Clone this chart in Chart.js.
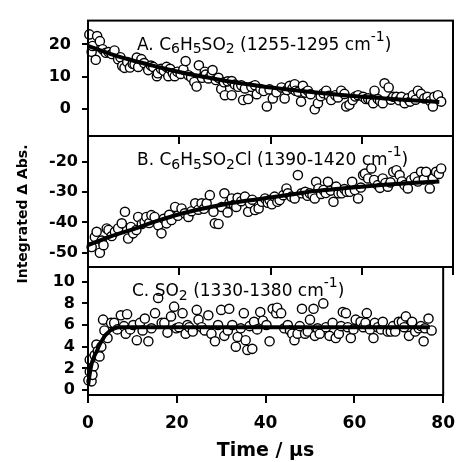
<!DOCTYPE html>
<html><head><meta charset="utf-8">
<script src="https://cdn.jsdelivr.net/npm/chart.js@4/dist/chart.umd.min.js"></script>
<style>
html,body{margin:0;padding:0;background:#fff;}
#wrap{position:relative;width:465px;height:462px;}
canvas{position:absolute;left:0;top:0;}
</style></head><body>
<div id="wrap">
<canvas id="cA" width="465" height="462"></canvas>
<canvas id="cB" width="465" height="462"></canvas>
<canvas id="cC" width="465" height="462"></canvas>
</div>
<script>
// ---------- Panel A: C6H5SO2 ----------
const timeA = [0.3,0.8,1.0,1.7,2.0,2.6,3.2,3.9,4.5,5.2,5.8,6.6,7.1,7.5,8.0,8.6,9.2,9.8,10.2,10.7,11.0,11.7,12.3,13.2,13.8,14.3,15.1,15.3,16.0,16.6,17.2,17.6,18.0,18.6,19.0,19.6,20.3,20.9,21.4,22.0,22.6,23.3,23.8,24.3,25.0,25.6,25.8,26.4,27.1,27.3,28.0,28.6,29.2,29.8,30.0,30.6,31.5,31.5,32.2,32.9,33.6,34.0,34.4,35.1,35.8,36.6,37.0,37.8,38.5,39.2,39.8,40.5,41.3,42.4,43.1,43.6,44.2,44.8,45.3,45.5,46.1,46.7,47.1,47.6,48.2,48.8,49.7,50.4,51.0,51.6,52.2,52.8,53.3,54.2,54.8,55.5,56.2,56.6,57.3,58.0,58.6,59.2,60.3,60.9,61.4,62.0,62.5,62.8,63.5,64.0,64.6,65.0,65.9,66.4,66.9,67.6,68.2,68.7,69.4,70.1,70.6,71.2,71.8,72.3,73.0,73.7,74.4,75.0,75.6,75.9,76.7,77.4];
const absA = [23.1,17.7,19.5,15.2,22.6,21.0,18.5,17.4,17.6,17.0,18.1,15.4,16.0,13.3,12.7,14.5,12.8,14.0,13.8,15.9,13.0,15.4,14.2,12.0,13.4,13.0,10.1,11.0,12.4,11.8,13.0,10.1,12.4,11.0,10.1,11.5,10.8,12.2,14.8,10.4,9.8,8.3,6.9,13.5,9.6,11.5,10.6,9.4,10.8,12.0,8.9,9.6,6.1,8.2,4.2,8.5,8.6,4.2,7.5,6.8,7.3,2.7,6.3,3.0,6.8,7.3,4.5,6.1,5.5,0.7,6.0,3.2,5.1,6.6,3.2,5.8,7.1,6.2,7.6,5.6,5.3,2.2,7.1,5.0,5.6,4.5,-0.2,1.7,3.9,4.8,5.6,4.0,2.7,4.2,3.5,5.6,4.6,0.7,1.2,2.7,3.8,4.2,3.7,3.0,3.2,2.6,1.7,5.6,3.0,2.4,1.7,7.9,6.6,2.8,3.7,3.7,2.6,3.7,1.7,3.2,2.2,4.2,2.8,5.6,4.6,3.2,3.7,2.4,0.7,3.7,4.2,2.2];
const fitTimeA = [0,5,10,15,20,25,30,35,40,45,50,55,60,65,70,77];
const fitA = [19.5,17.0,14.9,13.1,11.4,10.0,8.7,7.6,6.6,5.8,5.0,4.3,3.7,3.2,2.7,2.1];
const ticksA = [0,10,20];

// ---------- Panel B: C6H5SO2Cl ----------
const timeB = [0.8,1.5,1.9,2.6,3.0,3.4,4.1,4.5,5.2,5.9,6.6,7.4,8.1,8.8,9.4,9.9,10.6,11.0,11.8,12.4,12.8,13.4,13.9,14.6,15.4,16.1,16.6,17.2,17.8,18.3,19.1,19.7,20.5,21.2,22.0,22.7,23.5,24.2,24.9,25.4,26.0,26.7,27.5,27.8,28.6,29.3,29.9,30.6,31.0,31.5,32.0,32.5,32.8,33.6,34.4,35.1,35.5,36.0,36.6,37.4,38.1,38.8,39.4,39.8,40.3,40.9,41.5,42.0,42.8,43.5,43.8,44.6,45.3,46.0,46.8,47.6,48.1,48.6,49.2,49.7,50.0,50.5,51.1,51.6,52.1,52.6,53.2,53.8,54.4,54.9,55.6,56.2,56.7,57.4,57.9,58.5,59.2,59.8,60.3,60.7,61.4,62.1,62.7,63.5,64.0,64.6,65.2,65.7,66.3,66.9,67.6,68.3,68.8,69.4,70.1,70.8,71.6,72.3,73.0,73.6,74.1,74.9,75.6,76.3,76.9,77.4];
const absB = [-48.1,-44.8,-43.1,-50.0,-46.0,-47.5,-42.0,-42.5,-44.5,-43.1,-42.0,-40.3,-36.5,-45.3,-41.5,-43.6,-42.5,-38.2,-40.5,-39.8,-38.2,-40.2,-37.6,-38.2,-40.9,-43.6,-38.8,-40.3,-37.5,-39.2,-34.9,-37.8,-35.4,-37.0,-38.2,-36.3,-33.7,-35.8,-33.7,-35.5,-33.7,-31.0,-36.5,-40.3,-40.5,-34.9,-30.4,-36.7,-33.5,-32.1,-34.2,-34.9,-31.9,-33.0,-31.5,-36.5,-33.7,-32.5,-35.9,-35.4,-33.2,-32.1,-33.5,-32.6,-34.0,-31.5,-33.2,-32.6,-31.0,-28.8,-30.4,-31.5,-32.1,-24.4,-30.4,-29.9,-31.2,-30.4,-31.0,-32.1,-26.6,-28.8,-30.6,-29.3,-30.3,-26.6,-29.5,-33.2,-28.2,-30.4,-30.4,-29.0,-29.9,-29.9,-26.6,-29.3,-32.1,-28.5,-24.4,-23.9,-25.5,-22.2,-26.0,-27.7,-28.6,-25.5,-27.0,-28.2,-26.8,-23.3,-22.8,-24.4,-26.5,-27.7,-28.8,-26.0,-25.0,-26.5,-23.3,-25.8,-23.3,-28.8,-25.5,-23.3,-24.0,-22.2];
const fitTimeB = [0,5,10,15,20,25,30,35,40,45,50,55,60,65,70,77];
const fitB = [-47.5,-44.6,-42.2,-39.6,-37.3,-35.5,-34.0,-32.8,-31.8,-30.7,-29.6,-28.9,-28.2,-27.6,-27.1,-26.5];
const ticksB = [-50,-40,-30,-20];

// ---------- Panel C: SO2 ----------
const timeC = [0.1,0.4,0.4,0.8,1.0,1.3,1.5,1.9,2.2,2.6,3.0,3.4,3.7,4.4,5.2,5.9,6.6,7.4,8.1,8.5,8.8,9.5,10.2,11.0,11.7,12.3,12.8,13.6,14.3,15.1,15.8,16.6,17.2,17.9,18.7,19.4,19.9,20.5,21.3,22.0,22.4,22.8,23.6,24.5,24.9,25.6,26.3,27.1,27.8,28.6,29.3,30.0,30.7,31.5,31.8,32.5,33.3,33.7,34.4,35.1,35.5,35.9,36.4,37.0,37.4,38.1,38.8,39.4,40.2,40.9,41.6,42.4,42.6,43.5,44.2,45.0,45.5,46.0,46.5,47.2,47.7,48.2,48.9,49.5,50.0,50.8,51.1,51.7,52.2,53.0,53.6,54.4,55.1,55.8,56.5,57.0,57.4,58.1,58.5,59.2,59.8,60.3,61.4,62.0,62.5,62.8,63.5,64.3,64.6,65.3,66.0,66.4,67.5,68.2,68.7,69.2,70.0,70.7,71.2,71.6,72.3,73.0,73.7,74.5,75.0,75.6,75.9,76.7,77.4];
const absC = [0.9,1.7,2.8,0.8,1.4,2.2,3.2,4.2,3.6,3.1,4.0,6.5,5.5,4.8,6.2,6.2,5.6,6.9,5.9,5.2,7.0,5.6,6.0,4.6,6.2,5.5,6.6,4.5,5.7,7.1,8.5,6.2,6.2,5.3,6.8,7.7,5.7,5.8,7.1,5.2,6.0,5.8,5.4,7.4,6.5,5.8,5.5,6.9,5.2,4.5,6.0,7.4,5.0,5.5,7.5,6.0,4.0,4.9,5.7,7.1,4.6,3.7,5.9,3.8,6.3,5.6,7.2,6.4,6.0,4.5,7.5,7.1,7.6,7.1,5.7,6.0,5.5,5.2,4.6,5.2,5.9,7.5,5.2,5.4,6.5,7.5,5.0,5.7,5.2,8.0,5.8,5.0,6.2,4.8,5.2,5.9,7.2,7.1,5.8,4.8,5.6,6.5,6.3,5.8,6.2,7.1,5.6,4.8,6.2,5.8,5.6,6.3,5.4,5.4,5.9,5.4,6.3,6.3,5.8,6.8,5.0,6.3,5.4,5.7,5.9,4.5,5.7,6.6,5.5];
const fitTimeC = [0,0.4,0.8,1.4,2.0,2.6,3.2,3.8,4.5,5.2,6.0,7.0,10,20,40,60,77];
const fitC = [0.4,1.5,2.4,3.1,3.6,4.2,4.6,5.0,5.3,5.55,5.7,5.8,5.8,5.8,5.8,5.8,5.8];
const ticksC = [0,2,4,6,8,10];

const timeTicks = [0,20,40,60,80];

// ---------- text ----------
const titleA = [['A. C'],['6','sub'],['H'],['5','sub'],['SO'],['2','sub'],[' (1255-1295 cm'],['-1','sup'],[')']];
const titleB = [['B. C'],['6','sub'],['H'],['5','sub'],['SO'],['2','sub'],['Cl (1390-1420 cm'],['-1','sup'],[')']];
const titleC = [['C. SO'],['2','sub'],[' (1330-1380 cm'],['-1','sup'],[')']];
const yTitle = 'Integrated \u0394 Abs.';
const xTitle = 'Time / \u00b5s';

Chart.defaults.font.family = "'DejaVu Sans'";
Chart.defaults.color = '#000';

const boxPlugin = {
  id: 'box',
  afterDraw(chart) {
    const {ctx, chartArea: a} = chart;
    ctx.save();
    ctx.strokeStyle = '#000';
    ctx.lineWidth = 2;
    ctx.strokeRect(a.left, a.top, a.right - a.left, a.bottom - a.top);
    ctx.restore();
  }
};

function titlePlugin(segs, dx) {
  return {
    id: 'panelTitle',
    afterDraw(chart) {
      const {ctx, chartArea} = chart;
      let x = chartArea.left + dx;
      const base = chartArea.top + 29;
      ctx.save();
      ctx.fillStyle = '#000';
      ctx.textAlign = 'left';
      ctx.textBaseline = 'alphabetic';
      for (const [t, kind] of segs) {
        const size = kind ? 14 : 17;
        ctx.font = size + "px 'DejaVu Sans'";
        const dy = kind === 'sub' ? 3.5 : kind === 'sup' ? -9 : 0;
        ctx.fillText(t, x, base + dy);
        x += ctx.measureText(t).width;
      }
      ctx.restore();
    }
  };
}

const yTitlePlugin = {
  id: 'yTitle',
  afterDraw(chart) {
    const ctx = chart.ctx;
    ctx.save();
    ctx.translate(23, 214);
    ctx.rotate(-Math.PI / 2);
    ctx.font = "bold 14px 'DejaVu Sans'";
    ctx.fillStyle = '#000';
    ctx.textAlign = 'center';
    ctx.textBaseline = 'middle';
    ctx.fillText(yTitle, 0, 0);
    ctx.restore();
  }
};

function panel(id, o) {
  const plugins = [boxPlugin, titlePlugin(o.title, o.dx)];
  if (o.extra) plugins.push(o.extra);
  return new Chart(document.getElementById(id), {
    type: 'scatter',
    data: {
      datasets: [
        { data: o.fitX.map((x, i) => ({x, y: o.fitY[i]})), showLine: true, borderColor: '#000',
          borderWidth: 4, pointRadius: 0, cubicInterpolationMode: 'monotone', fill: false },
        { data: o.x.map((x, i) => ({x, y: o.y[i]})), showLine: false, pointRadius: 4.6,
          pointBorderWidth: 1.4, pointBorderColor: '#000', pointBackgroundColor: '#fff', clip: false }
      ]
    },
    options: {
      responsive: false, animation: false, devicePixelRatio: 1,
      layout: { padding: { top: o.top, bottom: o.bottom, left: 0, right: 12 }, autoPadding: false },
      plugins: { legend: { display: false }, tooltip: { enabled: false } },
      scales: {
        x: {
          type: 'linear', min: 0, max: 80,
          afterBuildTicks: s => { s.ticks = timeTicks.map(v => ({value: v})); },
          ticks: { display: o.showX, font: { size: 17, weight: 'bold' }, color: '#000', padding: 10, maxRotation: 0 },
          grid: { display: true, drawOnChartArea: false, drawTicks: true, tickLength: 8, color: '#000', lineWidth: 2 },
          border: { display: true, color: '#000', width: 2 },
          title: { display: o.showX, text: xTitle, font: { size: 19, weight: 'bold' }, color: '#000', padding: 0 },
          afterFit: s => { s.height = o.xh; }
        },
        y: {
          type: 'linear', min: o.ymin, max: o.ymax,
          afterBuildTicks: s => { s.ticks = o.ticks.map(v => ({value: v})); },
          ticks: { font: { size: 16, weight: 'bold' }, color: '#000', padding: o.tpad },
          grid: { display: true, drawOnChartArea: false, drawTicks: true, tickLength: 6, color: '#000', lineWidth: 2 },
          border: { display: true, color: '#000', width: 2 },
          afterFit: s => { s.width = 88; }
        }
      }
    },
    plugins
  });
}

panel('cA', { x: timeA, y: absA, fitX: fitTimeA, fitY: fitA, ticks: ticksA, ymin: -8.5, ymax: 27.4,
  top: 14, bottom: 462 - 136 - 10, xh: 10, showX: false, tpad: 11, title: titleA, dx: 49 });
panel('cB', { x: timeB, y: absB, fitX: fitTimeB, fitY: fitB, ticks: ticksB, ymin: -54.7, ymax: -11.5,
  top: 136, bottom: 462 - 267 - 10, xh: 10, showX: false, tpad: 4, title: titleB, dx: 49 });
panel('cC', { x: timeC, y: absC, fitX: fitTimeC, fitY: fitC, ticks: ticksC, ymin: -0.46, ymax: 11.36,
  top: 267, bottom: 0, xh: 67, showX: true, tpad: 7, title: titleC, dx: 44, extra: yTitlePlugin });
</script>
</body></html>
